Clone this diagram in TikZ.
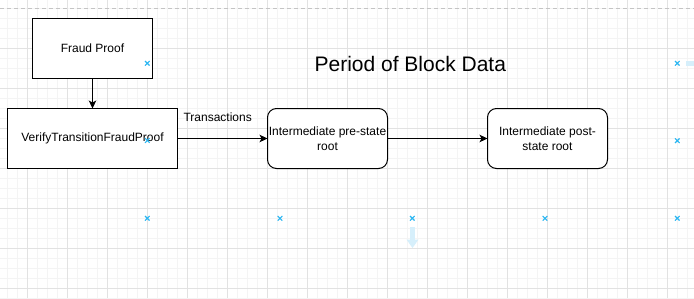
\documentclass[tikz,border=0pt]{standalone}
\usepackage{fontspec}
\setmainfont{Liberation Sans}
\usetikzlibrary{arrows.meta}
\definecolor{gridminor}{HTML}{F4F4F4}
\definecolor{gridmajor}{HTML}{E2E2E2}
\definecolor{pageline}{HTML}{C4C4C4}
\definecolor{hoverblue}{HTML}{29B6F2}
\definecolor{hintblue}{HTML}{D6EFFB}
\tikzset{
  box/.style={draw=black, line width=1pt, fill=white, inner sep=0pt, outer sep=0pt,
    align=center, font=\fontsize{12}{15}\selectfont},
  roundbox/.style={box, rounded corners=9pt},
  link/.style={draw=black, line width=1pt, -{Stealth[length=8pt,width=7.5pt,inset=2pt]}},
  lbl/.style={inner sep=0pt, font=\fontsize{12}{15}\selectfont},
  xmark/.style={draw=hoverblue, line width=1.1pt},
}
\newcommand{\hoverx}[2]{\draw[xmark] (#1-2.3,#2-2.3) -- (#1+2.3,#2+2.3) (#1-2.3,#2+2.3) -- (#1+2.3,#2-2.3);}
\begin{document}
\begin{tikzpicture}[x=1pt,y=-1pt]
\useasboundingbox (0,0) rectangle (694,298);
\fill[white] (0,0) rectangle (694,298);
% grid
\foreach \x in {7.5,17.5,...,694} \draw[gridminor, line width=0.8pt] (\x,0) -- (\x,298);
\foreach \y in {8,18,...,298} \draw[gridminor, line width=0.8pt] (0,\y) -- (694,\y);
\foreach \x in {27.5,67.5,...,694} \draw[gridmajor, line width=0.8pt] (\x,0) -- (\x,298);
\foreach \y in {48,88,...,298} \draw[gridmajor, line width=0.8pt] (0,\y) -- (694,\y);
\draw[pageline, line width=0.8pt, dash pattern=on 4pt off 3pt] (0,8) -- (694,8);

% nodes
\node[box, minimum width=120pt, minimum height=60pt] (fp) at (92.5,48.5) {Fraud Proof};
\node[box, minimum width=170pt, minimum height=60pt] (vt) at (92.5,138.5) {VerifyTransitionFraudProof};
\node[roundbox, minimum width=120pt, minimum height=60pt] (pre) at (327.5,138.5) {Intermediate pre-state\\root};
\node[roundbox, minimum width=120pt, minimum height=60pt] (post) at (547.5,138.5) {Intermediate post-\\state root};
\node[inner sep=0pt, font=\fontsize{21}{25}\selectfont, anchor=base] (title) at (410.3,71.7) {Period of Block Data};
\node[lbl, anchor=base] (tx) at (217.7,121.8) {Transactions};

% connectors
\draw[link] (fp) -- (vt);
\draw[link] (vt) -- (pre);
\draw[link] (pre) -- (post);

% editor hover marks
\hoverx{147.3}{63.3}
\hoverx{147.3}{140.5}
\hoverx{147.3}{218.3}
\hoverx{280}{218.3}
\hoverx{412.3}{218.3}
\hoverx{545}{218.3}
\hoverx{677.3}{218.3}
\hoverx{677.3}{140.7}
\hoverx{677.3}{63.3}
\fill[hintblue] (410,227) rectangle (415,240);
\fill[hintblue] (406.5,239.5) -- (418.5,239.5) -- (412.5,248) -- cycle;
\fill[hintblue] (686,60.8) rectangle (694,65.5);
\end{tikzpicture}
\end{document}
